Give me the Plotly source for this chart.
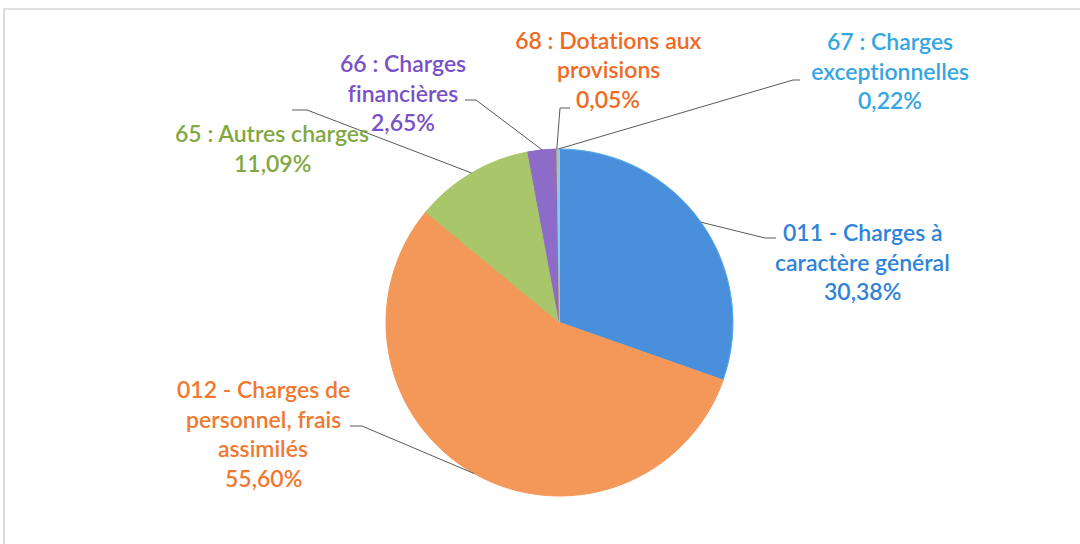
import math
import plotly.graph_objects as go

# ---- data ----
categories = ["011 - Charges à caractère général",
              "012 - Charges de personnel, frais assimilés",
              "65 : Autres charges",
              "66 : Charges financières",
              "68 : Dotations aux provisions",
              "67 : Charges exceptionnelles"]
values = [30.38, 55.60, 11.09, 2.65, 0.05, 0.22]
label_lines = [["011 - Charges à", "caractère général"],
               ["012 - Charges de", "personnel, frais", "assimilés"],
               ["65 : Autres charges"],
               ["66 : Charges", "financières"],
               ["68 : Dotations aux", "provisions"],
               ["67 : Charges", "exceptionnelles"]]

# ---- styles / layout ----
W, H = 1080, 544
slice_colors = ["#4A8FDC", "#F4985A", "#A9C66B", "#8D6BC8", "#F07A3A", "#7FD0F0"]
slice_edges = ["#58AEEE", "#F4985A", "#A9C66B", "#8D6BC8", "#F07A3A", "#7FD0F0"]
text_colors = ["#2F84D8", "#F0782F", "#82A843", "#7A50C8", "#F06A22", "#35A6E2"]
cx, cy, R = 559.5, 322.5, 173.5
# label line centres (x, first-line y) and leader elbow/end (pixels)
label_pos = [(862, 232), (263, 389), (272, 133), (403, 63), (608, 40), (890, 41)]
leader_pts = [[(765, 238), (776, 238)],
              [(362, 426), (350, 426)],
              [(307, 110), (292, 110)],
              [(476, 100), (465, 100)],
              [(560, 108), (570, 108)],
              [(793, 80), (800, 80)]]
line_gap = 29.5

def px(x):
    return x / W

def py(y):
    return 1 - y / H

fig = go.Figure(go.Pie(
    labels=categories, values=values, sort=False, direction="clockwise",
    rotation=0, textinfo="none", hoverinfo="label+percent", showlegend=False,
    marker=dict(colors=slice_colors, line=dict(color=slice_edges, width=1)),
    domain=dict(x=[px(cx - R), px(cx + R)], y=[py(cy + R), py(cy - R)]),
))

annotations = []
shapes = []
total = sum(values)
cum = 0.0
for i, v in enumerate(values):
    mid = (cum + v / 2) / total * 2 * math.pi
    cum += v
    ax, ay = cx + R * math.sin(mid), cy - R * math.cos(mid)
    pts = [(ax, ay)] + leader_pts[i]
    path = "M " + " L ".join(f"{px(x)},{py(y)}" for x, y in pts)
    shapes.append(dict(type="path", path=path, xref="paper", yref="paper",
                       line=dict(color="#5a5a5a", width=1)))
    lx, ly = label_pos[i]
    pct = f"{v:.2f}".replace(".", ",") + "%"
    lines = label_lines[i] + [pct]
    for k, t in enumerate(lines):
        annotations.append(dict(
            text=t, x=px(lx), y=py(ly + k * line_gap), xref="paper", yref="paper",
            showarrow=False, xanchor="center", yanchor="middle",
            font=dict(family="Lato", size=23, color=text_colors[i], weight=600)))

# frame
shapes.append(dict(type="rect", xref="paper", yref="paper",
                   x0=px(4), y0=py(9), x1=1.05, y1=-0.05,
                   line=dict(color="#c4c4c4", width=1.2)))

fig.update_layout(width=W, height=H, autosize=False,
                  margin=dict(l=0, r=0, t=0, b=0),
                  paper_bgcolor="white", plot_bgcolor="white",
                  annotations=annotations, shapes=shapes)

post = ("document.body.style.margin='0px';document.body.style.padding='0px';"
        "var s=document.createElement('style');"
        "s.textContent='text{font-variant-ligatures:none !important;font-feature-settings:\"liga\" 0 !important;}';"
        "document.head.appendChild(s);")
fig.write_html("out.html", config={"displayModeBar": False}, post_script=post)
